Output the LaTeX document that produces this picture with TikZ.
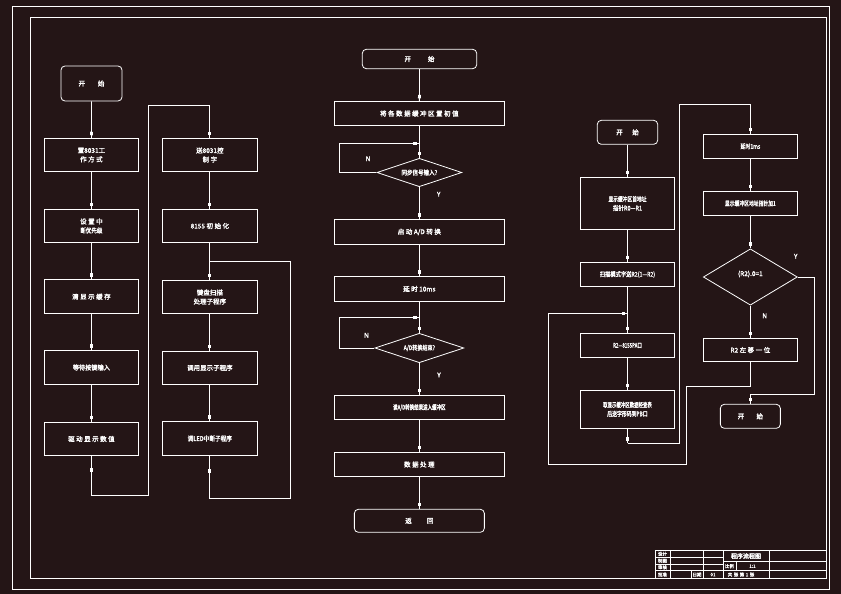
\documentclass[tikz,border=0pt]{standalone}
\usepackage{fontspec}
\usepackage{graphicx}
\usetikzlibrary{shapes.geometric,decorations.markings}
\newfontfamily\cjk{Noto Sans CJK SC}[FakeBold=2.2]
\definecolor{bg}{RGB}{36,21,22}
\newcommand{\chg}{\hspace{1.5pt}}
\newcommand{\narw}[2]{\scalebox{#1}[1]{#2}}
\begin{document}
\begin{tikzpicture}[x=1pt,y=-1pt,
  txt/.style={text=white,font=\cjk\fontsize{6.5}{9}\selectfont,align=center,inner sep=0pt},
  box/.style={txt,draw=white,line width=0.8pt,rectangle},
  term/.style={box,rounded corners=4pt},
  lbox/.style={box,minimum width=94.7pt,minimum height=33.7pt},
  cbox/.style={box,minimum width=170.7pt,minimum height=24.4pt},
  rbox/.style={box,minimum width=94.5pt},
  dia/.style={draw=white,line width=0.8pt,diamond,inner sep=0pt},
  wl/.style={draw=white,line width=0.8pt},
  arr/.style={postaction={decorate},decoration={markings,mark=at position 1 with {\fill[white] (-6pt,-1.4pt) rectangle (-2.5pt,1.4pt);}}},
  small/.style={txt,font=\cjk\fontsize{4.5}{5}\selectfont}]
\fill[bg] (0,0) rectangle (841,594);
\useasboundingbox (0,0) rectangle (841,594);
% frames
\draw[white,line width=0.6pt] (12,6) rectangle (829,589);
\draw[white,line width=0.8pt] (30,17) rectangle (826,578.5);

% ---------- column 1 ----------
\node[term,minimum width=61pt,minimum height=35pt] (s1) at (91.5,83.5) {开\hspace{12.8pt}始};
\node[lbox] (a1) at (91.4,155) {置8031工\\作\chg 方\chg 式};
\node[lbox] (a2) at (91.4,226) {设\chg 置\chg 中\\\narw{0.85}{断优先级}};
\node[lbox] (a3) at (91.4,296.7) {清\chg 显\chg 示\chg 缓\chg 存};
\node[lbox] (a4) at (91.4,367.5) {\narw{0.95}{等待按键输入}};
\node[lbox] (a5) at (91.4,439) {驱\chg 动\chg 显\chg 示\chg 数\chg 值};
% ---------- column 2 ----------
\node[lbox,minimum width=95.7pt] (b1) at (209.85,155) {送8031控\\制\chg 字};
\node[lbox,minimum width=95.7pt] (b2) at (209.85,226) {8155\chg 初\chg 始\chg 化};
\node[lbox,minimum width=95.7pt] (b3) at (209.85,297) {键盘扫描\\处理子程序};
\node[lbox,minimum width=95.7pt] (b4) at (209.85,367.8) {调用显示子程序};
\node[lbox,minimum width=95.7pt] (b5) at (209.85,438.5) {\narw{0.87}{调LED中断子程序}};

\draw[wl,arr] (s1) -- (a1);
\draw[wl,arr] (a1) -- (a2);
\draw[wl,arr] (a2) -- (a3);
\draw[wl,arr] (a3) -- (a4);
\draw[wl,arr] (a4) -- (a5);
\coordinate (a5m) at (91.4,474);
\draw[wl,arr] (a5.south) -- (a5m);
\draw[wl,arr] (a5m) -- (91.4,495) -- (148.7,495) -- (148.7,105) -- (209.85,105) -- (b1.north);
\draw[wl,arr] (b1) -- (b2);
\draw[wl,arr] (b2) -- (b3);
\draw[wl,arr] (b3) -- (b4);
\draw[wl,arr] (b4) -- (b5);
\coordinate (b5m) at (209.85,475);
\draw[wl,arr] (b5.south) -- (b5m);
\draw[wl] (b5m) -- (209.85,498) -- (290.7,498) -- (290.7,261) -- (209.85,261);

% ---------- centre ----------
\node[term,minimum width=114.4pt,minimum height=19.4pt] (cs) at (419.5,59) {开\hspace{17pt}始};
\node[cbox] (c1) at (419.35,113.5) {将\chg 各\chg 数\chg 据\chg 缓\chg 冲\chg 区\chg 置\chg 初\chg 值};
\node[dia,minimum width=85pt,minimum height=28.4pt] (d1) at (419.35,172.5) {};
\node[txt] at (d1) {\narw{0.85}{同步信号输入?}};
\node[cbox] (c2) at (419.35,232) {启\chg 动\chg A/D\chg 转\chg 换};
\node[cbox] (c3) at (419.35,289) {延\chg 时\chg 10ms};
\node[dia,minimum width=89pt,minimum height=29.4pt] (d2) at (419.35,348) {};
\node[txt] at (d2) {\narw{0.78}{A/D转换结束?}};
\node[cbox] (c4) at (419.35,407.5) {\narw{0.69}{读A/D转换结果送入缓冲区}};
\node[cbox] (c5) at (419.35,464.5) {数\chg 据\chg 处\chg 理};
\node[term,minimum width=130pt,minimum height=23pt] (ce) at (419.35,520.8) {返\hspace{15.2pt}回};

\draw[wl,arr] (cs) -- (c1);
\draw[wl,arr] (c1) -- (d1);
\draw[wl,arr] (d1.west) -- (339.3,172.5) -- (339.3,143.3) -- (419.35,143.3);
\draw[wl,arr] (d1.south) -- (c2);
\draw[wl,arr] (c2) -- (c3);
\draw[wl,arr] (c3) -- (d2);
\draw[wl,arr] (d2.west) -- (339.3,348) -- (339.3,317.3) -- (419.35,317.3);
\draw[wl,arr] (d2.south) -- (c4);
\draw[wl,arr] (c4) -- (c5);
\draw[wl,arr] (c5) -- (ce);
\node[txt] (n1) at (368,158.7) {N};
\node[txt] (y1) at (438.7,194.2) {Y};
\node[txt] (n2) at (366.5,335.3) {N};
\node[txt] (y2) at (439,375) {Y};

% ---------- right part ----------
\node[term,minimum width=60.4pt,minimum height=24pt] (rs) at (627.5,132.3) {开\hspace{9.5pt}始};
\node[rbox,minimum height=52.4pt] (r1) at (627.5,203.5) {\narw{0.73}{显示缓冲区首地址}\\\narw{0.85}{指针R0—R1}};
\node[rbox,minimum height=24.4pt] (r2) at (627.5,274.5) {\narw{0.81}{扫描模式字送R2(1—R2)}};
\node[rbox,minimum height=24.4pt] (r3) at (627.5,345.5) {\narw{0.68}{R2—8155PA口}};
\node[rbox,minimum height=38pt] (r4) at (627.5,409.3) {\narw{0.68}{取显示缓冲区数据经查表}\\\narw{0.75}{后送字形码到PB口}};

\node[rbox,minimum width=94.7pt,minimum height=24.7pt] (ra) at (750.35,146.35) {\narw{0.77}{延时1ms}};
\node[rbox,minimum width=94.7pt,minimum height=24.7pt] (rb) at (750.35,203.35) {\narw{0.74}{显示缓冲区地址指针加1}};
\node[dia,minimum width=94pt,minimum height=56.3pt] (rd) at (750.35,277) {};
\node[txt] at (750.35,274) {(R2).0=1};
\node[rbox,minimum width=94.7pt,minimum height=23.4pt] (rc) at (750.35,350) {R2\chg 左\chg 移\chg 一\chg 位};
\node[term,minimum width=60pt,minimum height=24pt] (re) at (750.35,416.3) {开\hspace{12.2pt}始};

\draw[wl,arr] (rs) -- (r1);
\draw[wl,arr] (r1) -- (r2);
\draw[wl,arr] (r2) -- (r3);
\draw[wl,arr] (r3) -- (r4);
\coordinate (r4m) at (627.5,443.3);
\draw[wl,arr] (r4.south) -- (r4m);
\draw[wl,arr] (r4m) -- (679.7,443.3) -- (679.7,104.3) -- (750.35,104.3) -- (ra.north);
\draw[wl,arr] (ra) -- (rb);
\draw[wl,arr] (rb) -- (rd);
\draw[wl,arr] (rd.south) -- (rc);
\draw[wl,arr] (rc.south) -- (750.35,386.7) -- (686.5,386.7) -- (686.5,464) -- (548.3,464) -- (548.3,313.3) -- (627.5,313.3);
\draw[wl,arr] (rd.east) -- (814.7,277) -- (814.7,394.3) -- (750.35,394.3) -- (re.north);
\node[txt] (y3) at (795.7,256.3) {Y};
\node[txt] (n3) at (764.7,315.8) {N};

% ---------- title block ----------
\draw[white,line width=0.6pt]
  (655,550.3) -- (826,550.3)
  (655,557.3) -- (723,557.3)
  (655,564) -- (723,564)
  (723,561.7) -- (826,561.7)
  (655,570.7) -- (826,570.7)
  (655,550.3) -- (655,578.5)
  (670,550.3) -- (670,578.5)
  (691,570.7) -- (691,578.5)
  (703,550.3) -- (703,578.5)
  (723,550.3) -- (723,578.5)
  (736,561.7) -- (736,570.7)
  (769,550.3) -- (769,578.5);
\node[small] (t1) at (662.5,553.8) {设计};
\node[small] (t2) at (662.5,560.7) {制图};
\node[small] (t3) at (662.5,567.3) {审核};
\node[small] (t4) at (662.5,574.6) {批准};
\node[small] (t5) at (697,574.6) {日期};
\node[small] (t6) at (713,574.6) {01};
\node[small,font=\cjk\fontsize{6}{6}\selectfont] (t7) at (746,556) {程序流程图};
\node[small] (t8) at (729.5,566.2) {比例};
\node[small] (t9) at (752.5,566.2) {1:1};
\node[small] (t10) at (741,574.6) {共\chg 张\chg 第\chg 1\chg 张};
\end{tikzpicture}
\end{document}
